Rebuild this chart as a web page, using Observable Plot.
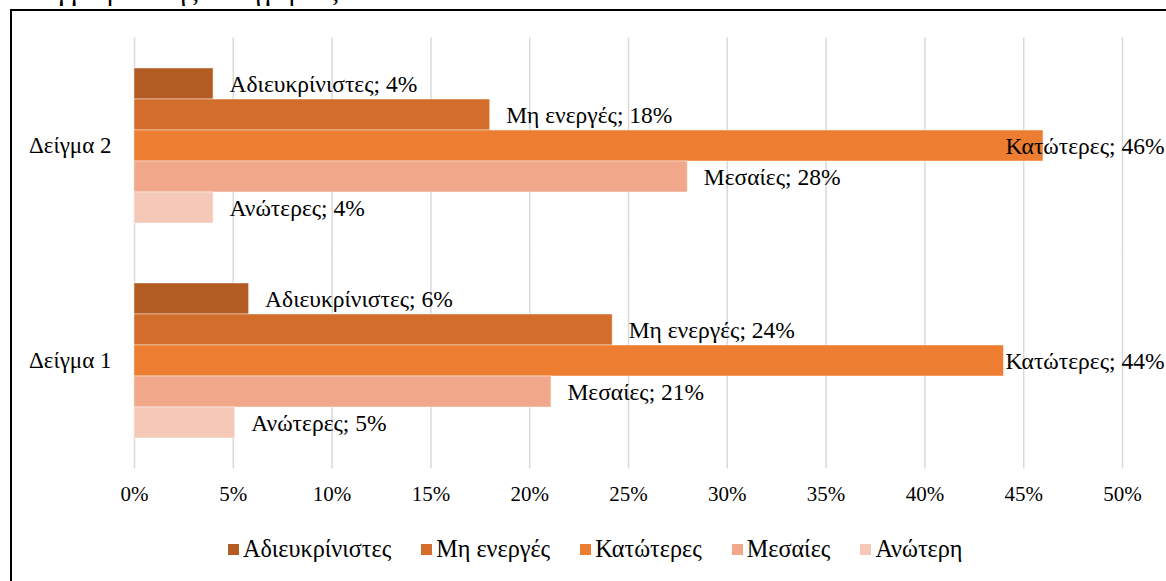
<!DOCTYPE html>
<html><head><meta charset="utf-8">
<script src="https://cdn.jsdelivr.net/npm/d3@7"></script>
<script src="https://cdn.jsdelivr.net/npm/@observablehq/plot@0.6"></script>
<style>
body{margin:0;background:#fff;width:1166px;height:581px;overflow:hidden;position:relative;font-family:"Liberation Serif","DejaVu Serif",serif;color:#000;}
#title{position:absolute;left:13px;top:-24px;font-size:29px;white-space:nowrap;line-height:1;}
#box{position:absolute;left:10px;top:9px;width:1300px;height:700px;border:2px solid #000;box-sizing:border-box;}
#chart{position:absolute;left:0;top:0;}
#legend{position:absolute;left:228px;top:536px;display:flex;align-items:center;font-size:24.2px;white-space:nowrap;line-height:26px;}
.item{display:flex;align-items:center;margin-right:30px;}
.sw{width:11px;height:11px;margin-right:4px;margin-top:1px;}
</style></head>
<body>
<div id="title">επαγγελματικής κατηγορίας</div>
<div id="box"></div>
<div id="chart"></div>
<div id="legend"></div>
<script>
const samples = ["Δείγμα 2", "Δείγμα 1"];
const categories = ["Αδιευκρίνιστες", "Μη ενεργές", "Κατώτερες", "Μεσαίες", "Ανώτερες"];
const legendNames = ["Αδιευκρίνιστες", "Μη ενεργές", "Κατώτερες", "Μεσαίες", "Ανώτερη"];
const sample2Values = [4, 18, 46, 28, 4];
const sample1Values = [5.8, 24.2, 44, 21.1, 5.1];
const sample2Labels = ["4%", "18%", "46%", "28%", "4%"];
const sample1Labels = ["6%", "24%", "44%", "21%", "5%"];
const xTicks = [0, 5, 10, 15, 20, 25, 30, 35, 40, 45, 50];
const colors = ["#B35C22", "#D26D2C", "#ED7D31", "#F1A78A", "#F5C8B8"];

const rows = [];
categories.forEach((c, i) => {
  rows.push({sample: samples[0], category: c, value: sample2Values[i], label: sample2Labels[i]});
  rows.push({sample: samples[1], category: c, value: sample1Values[i], label: sample1Labels[i]});
});
const outside = rows.filter(d => d.category !== "Κατώτερες");
const clamped = rows.filter(d => d.category === "Κατώτερες");
const bottomSample = samples[samples.length - 1];
const serif = '"Liberation Serif","DejaVu Serif",serif';

const chart = Plot.plot({
  width: 1166, height: 520,
  marginLeft: 134, marginRight: 44, marginTop: 38, marginBottom: 52,
  style: {fontFamily: serif, fontSize: "23px", color: "#000", background: "transparent", overflow: "visible"},
  x: {domain: [0, 50], axis: null},
  y: {domain: categories, padding: 0, axis: null},
  fy: {domain: samples, paddingInner: 0.27, paddingOuter: 0.135, axis: "left", tickSize: 0, tickPadding: 23, label: null},
  color: {domain: categories, range: colors},
  marks: [
    Plot.ruleX(xTicks, {x: d => d, stroke: "#d9d9d9", strokeWidth: 1.5, insetTop: -29.5, insetBottom: -29.5}),
    Plot.barX(rows, {x: "value", y: "category", fy: "sample", fill: "category", stroke: "#fff", strokeOpacity: 0.45, strokeWidth: 1}),
    Plot.text(outside, {x: "value", y: "category", fy: "sample", text: d => `${d.category}; ${d.label}`, textAnchor: "start", dx: 16, fontSize: 23.5, fill: "#000"}),
    Plot.text(clamped, {y: "category", fy: "sample", frameAnchor: "right", text: d => `${d.category}; ${d.label}`, textAnchor: "end", dx: 42, fontSize: 23.5, fill: "#000"}),
    Plot.text(xTicks, {x: d => d, fy: () => bottomSample, text: d => d + "%", frameAnchor: "bottom", dy: 61, fontSize: 21, fill: "#000"})
  ]
});
document.getElementById("chart").appendChild(chart);

const legend = document.getElementById("legend");
legendNames.forEach((n, i) => {
  const it = document.createElement("div");
  it.className = "item";
  const sw = document.createElement("span");
  sw.className = "sw";
  sw.style.background = colors[i];
  const t = document.createElement("span");
  t.textContent = n;
  it.appendChild(sw); it.appendChild(t);
  legend.appendChild(it);
});
</script>
</body></html>
